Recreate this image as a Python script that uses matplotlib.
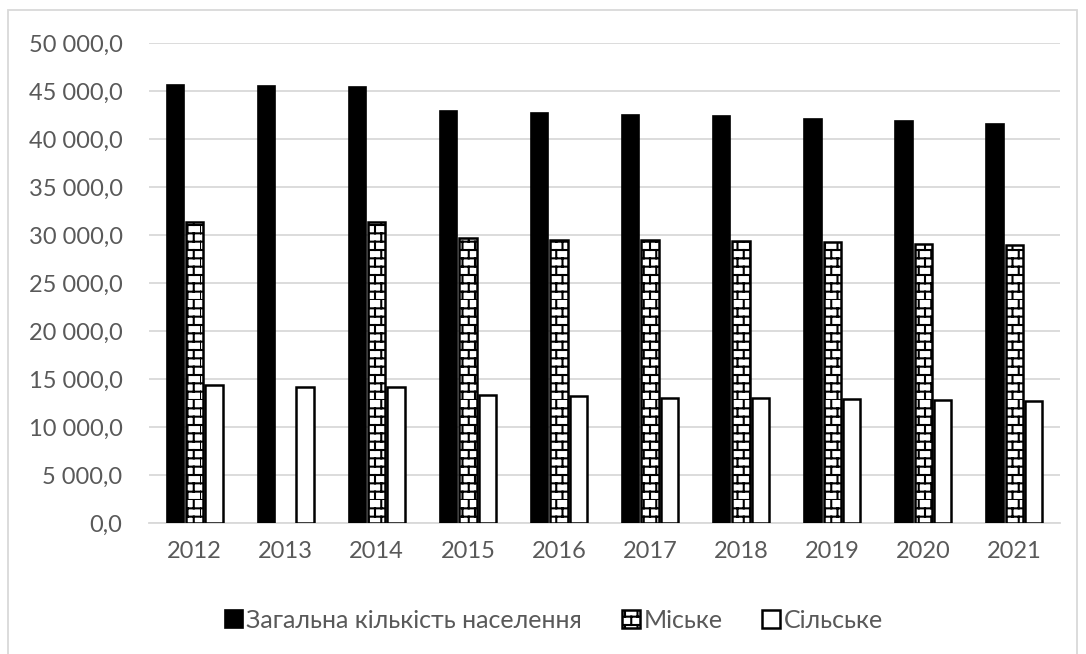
import warnings

import matplotlib
matplotlib.use("Agg")
import matplotlib.pyplot as plt
import matplotlib.hatch as mhatch
from matplotlib.patches import Rectangle
from matplotlib.path import Path
from matplotlib.ticker import FuncFormatter, MultipleLocator
import numpy as np

warnings.filterwarnings("ignore")

years = ["2012", "2013", "2014", "2015", "2016", "2017", "2018", "2019", "2020", "2021"]
total = [45633, 45553, 45426, 42929, 42760, 42584, 42386, 42153, 41902, 41588]
# no urban figure for 2013
urban = [31356, np.nan, 31356, 29729, 29551, 29520, 29416, 29270, 29103, 28957]
rural = [14374, 14200, 14200, 13331, 13262, 13088, 13050, 12980, 12840, 12700]
series_names = ["Загальна кількість населення", "Міське", "Сільське"]

GREY = "#595959"
GRID = "#d9d9d9"


class BrickHatch(mhatch.HatchPatternBase):
    """Horizontal brick pattern, selected with the 'b' hatch character."""

    def __init__(self, hatch, density):
        self.rows = hatch.count("b") * density
        self.cols = (self.rows * 2) // 3 if self.rows else 0
        self.num_vertices = 2 * (self.rows + self.rows * self.cols)

    def set_vertices_and_codes(self, vertices, codes):
        i = 0
        h = 1.0 / self.rows
        for r in range(self.rows):
            y = r * h
            vertices[i] = (0.0, y)
            vertices[i + 1] = (1.0, y)
            codes[i] = Path.MOVETO
            codes[i + 1] = Path.LINETO
            i += 2
            shift = 0.5 / self.cols if r % 2 else 0.0
            for c in range(self.cols):
                x = c / self.cols + shift
                vertices[i] = (x, y)
                vertices[i + 1] = (x, y + h)
                codes[i] = Path.MOVETO
                codes[i + 1] = Path.LINETO
                i += 2


mhatch._hatch_types.append(BrickHatch)

plt.rcParams["font.family"] = ["Lato", "DejaVu Sans"]
plt.rcParams["hatch.linewidth"] = 1.5
plt.rcParams["hatch.color"] = "black"

fig = plt.figure(figsize=(10.86, 6.54), dpi=100)
ax = fig.add_axes([149 / 1086, 130.7 / 654, 911 / 1086, 479.9 / 654])

x = np.arange(len(years))
w = 0.19
step = 0.212
ax.bar(x - step, total, w, color="black", edgecolor="black", linewidth=1.2,
       label=series_names[0], zorder=3)
ax.bar(x, urban, w, color="white", edgecolor="black", linewidth=1.8,
       hatch="bb", label=series_names[1], zorder=3)
ax.bar(x + step, rural, w, color="white", edgecolor="black", linewidth=1.8,
       label=series_names[2], zorder=3)

ax.set_xlim(-0.5, len(years) - 0.5)
ax.set_ylim(0, 50000)
ax.yaxis.set_major_locator(MultipleLocator(5000))
ax.yaxis.set_major_formatter(FuncFormatter(
    lambda v, _: f"{v:,.1f}".replace(",", " ").replace(".", ",")))
ax.set_xticks(x)
ax.set_xticklabels(years)
ax.grid(axis="y", color=GRID, linewidth=1.3, zorder=0)
for side in ("top", "right", "left"):
    ax.spines[side].set_visible(False)
ax.spines["bottom"].set_color(GRID)
ax.spines["bottom"].set_linewidth(1.3)
ax.tick_params(axis="both", length=0, labelsize=17, labelcolor=GREY)
ax.tick_params(axis="y", pad=19)
ax.tick_params(axis="x", pad=13)

fig.legend(loc="center", bbox_to_anchor=(554 / 1086, 34 / 654), ncol=3, frameon=False,
           fontsize=18, labelcolor=GREY, handlelength=0.7, handleheight=0.7,
           handletextpad=0.15, columnspacing=1.6)

# light frame around the chart area
fig.add_artist(Rectangle((7.5 / 1086, -0.02), 1069 / 1086, 1.0 - 9.5 / 654 + 0.02,
                         transform=fig.transFigure, fill=False,
                         edgecolor=GRID, linewidth=1.3))

fig.savefig("out.png", dpi=100, facecolor="white")
